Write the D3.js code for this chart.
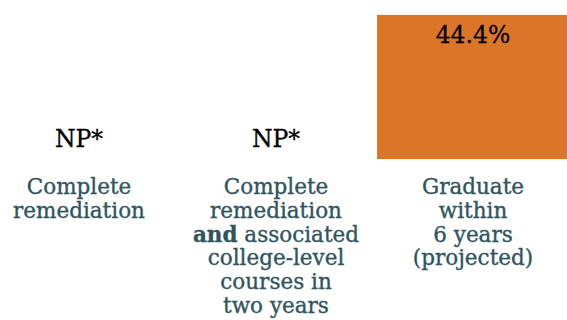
<!DOCTYPE html>
<html><head><meta charset="utf-8">
<script src="https://cdn.jsdelivr.net/npm/d3@7"></script>
<style>html,body{margin:0;padding:0;background:#fff;}svg{display:block;}</style>
</head><body>
<svg id="c" width="567" height="320"></svg>
<script>
const categories = ["Complete remediation", "Complete remediation and associated college-level courses in two years", "Graduate within 6 years (projected)"];
const values = [null, null, 44.4];
const valueLabels = ["NP*", "NP*", "44.4%"];
// label lines; segments [text, bold]
const labelLines = [
  [[["Complete",false]],[["remediation",false]]],
  [[["Complete",false]],[["remediation",false]],[["and",true],[" associated",false]],[["college-level",false]],[["courses in",false]],[["two years",false]]],
  [[["Graduate",false]],[["within",false]],[["6 years",false]],[["(projected)",false]]]
];

const svg = d3.select("#c");
const baseline = 159;
const x = d3.scaleBand().domain(categories).range([-20.5, 570.5]).paddingInner(0.036).paddingOuter(0.018);
const y = d3.scaleLinear().domain([0, 49]).range([baseline, 0]);
const font = "'DejaVu Serif', serif";

categories.forEach((c, i) => {
  const cx = x(c) + x.bandwidth()/2 + 1;
  if (values[i] != null) {
    svg.append("rect").attr("x", x(c)).attr("width", x.bandwidth())
      .attr("y", y(values[i])).attr("height", baseline - y(values[i]))
      .attr("fill", "#DB7628");
    svg.append("text").attr("x", cx).attr("y", y(values[i]) + 28)
      .attr("text-anchor", "middle").attr("font-family", font).attr("font-size", 23.5)
      .attr("fill", "#000").attr("stroke", "#000").attr("stroke-width", 0.3).text(valueLabels[i]);
  } else {
    svg.append("text").attr("x", cx).attr("y", baseline - 12)
      .attr("text-anchor", "middle").attr("font-family", font).attr("font-size", 23.5)
      .attr("fill", "#000").attr("stroke", "#000").attr("stroke-width", 0.3).text(valueLabels[i]);
  }
  const t = svg.append("text").attr("text-anchor", "middle").attr("font-family", font)
    .attr("font-size", 21.5).attr("fill", "#2F5560").attr("stroke", "#2F5560").attr("stroke-width", 0.35);
  labelLines[i].forEach((line, li) => {
    line.forEach((seg, si) => {
      const ts = t.append("tspan").text(seg[0]).attr("font-weight", seg[1] ? "bold" : "normal");
      if (si === 0) ts.attr("x", cx).attr("y", 194 + li * 23.8);
    });
  });
});
</script>
</body></html>
